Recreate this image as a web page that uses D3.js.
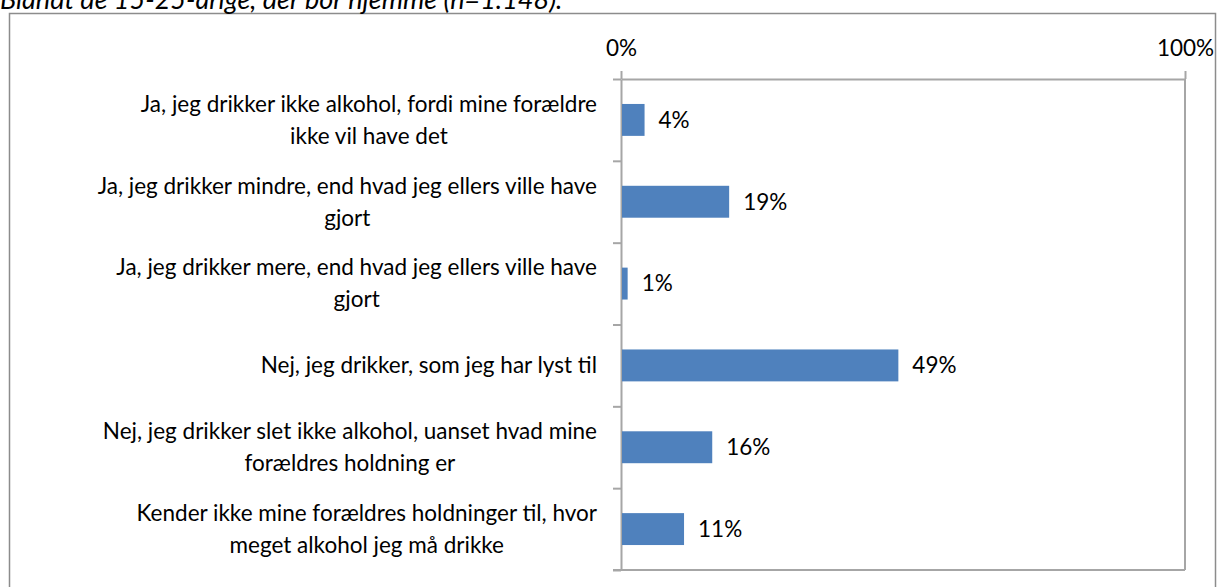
<!DOCTYPE html>
<html lang="da">
<head>
<meta charset="UTF-8">
<title>Forældres holdning til alkohol</title>
<script src="https://d3js.org/d3.v7.min.js"></script>
<style>
  body { margin: 0; background: #fff; }
  svg { display: block; font-family: Lato, "Open Sans", sans-serif; }
  .axis path, .axis line { stroke: #a6a6a6; stroke-width: 2; }
  .axis text { fill: #000; font-size: 22.5px; font-family: Lato, sans-serif; }
</style>
</head>
<body>
<svg width="1218" height="587"></svg>
<script>
// chart data
var title = "Blandt de 15-25-årige, der bor hjemme (n=1.148).";
var categories = [
  ["Ja, jeg drikker ikke alkohol, fordi mine forældre", "ikke vil have det"],
  ["Ja, jeg drikker mindre, end hvad jeg ellers ville have", "gjort"],
  ["Ja, jeg drikker mere, end hvad jeg ellers ville have", "gjort"],
  ["Nej, jeg drikker, som jeg har lyst til"],
  ["Nej, jeg drikker slet ikke alkohol, uanset hvad mine", "forældres holdning er"],
  ["Kender ikke mine forældres holdninger til, hvor", "meget alkohol jeg må drikke"]
];
var values = [4, 19, 1, 49, 16, 11];
var xTicks = [0, 100];

var svg = d3.select("svg");
var fontSize = 22.5;

// outer frame
svg.append("rect")
    .attr("x", 9.5).attr("y", 13.5)
    .attr("width", 1206).attr("height", 620)
    .attr("fill", "none")
    .attr("stroke", "#8c8c8c")
    .attr("stroke-width", 1.5);

// title (cut off at the top like the source)
svg.append("text")
    .attr("x", 0).attr("y", 9)
    .attr("font-size", 27)
    .attr("font-style", "italic")
    .attr("font-family", "Lato, sans-serif")
    .text(title);

var plotLeft = 621, plotRight = 1185, plotTop = 79, plotBottom = 570;

var x = d3.scaleLinear().domain([0, 100]).range([plotLeft, plotRight]);
var y = d3.scaleBand().domain(d3.range(categories.length)).range([plotTop, plotBottom]).paddingInner(0.61).paddingOuter(0.305);
var yEdges = d3.scaleLinear().domain([0, categories.length]).range([plotTop, plotBottom]);

// plot border (right, bottom)
var g = svg.append("g");
g.append("line").attr("x1", x(100)).attr("x2", x(100)).attr("y1", plotTop).attr("y2", plotBottom)
    .attr("stroke", "#a6a6a6").attr("stroke-width", 2);
g.append("line").attr("x1", plotLeft - 8).attr("x2", x(100)).attr("y1", plotBottom).attr("y2", plotBottom)
    .attr("stroke", "#a6a6a6").attr("stroke-width", 2);

// top x axis
svg.append("g")
    .attr("class", "axis")
    .attr("transform", "translate(0," + plotTop + ")")
    .call(d3.axisTop(x).tickValues(xTicks).tickSize(8).tickSizeOuter(0).tickPadding(15).tickFormat(function (d) { return d + "%"; }));

// left category axis: ticks at band edges
svg.append("g")
    .attr("class", "axis")
    .attr("transform", "translate(" + plotLeft + ",0)")
    .call(d3.axisLeft(yEdges).tickValues(d3.range(categories.length + 1)).tickSize(8).tickSizeOuter(0).tickFormat(""));

// bars
svg.selectAll(".bar")
    .data(values)
    .enter().append("rect")
    .attr("class", "bar")
    .attr("x", x(0) + 1)
    .attr("y", function (d, i) { return y(i); })
    .attr("width", function (d) { return x(d) - x(0); })
    .attr("height", y.bandwidth())
    .attr("fill", "#4f81bd");

// value labels
svg.selectAll(".val")
    .data(values)
    .enter().append("text")
    .attr("class", "val")
    .attr("x", function (d) { return x(d) + 15; })
    .attr("y", function (d, i) { return y(i) + y.bandwidth() / 2; })
    .attr("dy", "0.35em")
    .attr("font-size", fontSize)
    .text(function (d) { return d + "%"; });

// category labels, wrapped lines centred within a right-aligned block
var labelRight = 597, lineH = 32;
categories.forEach(function (lines, i) {
    var cy = y(i) + y.bandwidth() / 2;
    var t = svg.append("text").attr("font-size", fontSize).attr("text-anchor", "middle");
    var spans = lines.map(function (s, k) {
        return t.append("tspan")
            .attr("y", cy + (k - (lines.length - 1) / 2) * lineH)
            .attr("dy", "0.35em")
            .text(s);
    });
    var maxW = d3.max(spans, function (s) { return s.node().getComputedTextLength(); });
    spans.forEach(function (s) { s.attr("x", labelRight - maxW / 2); });
});
</script>
</body>
</html>
